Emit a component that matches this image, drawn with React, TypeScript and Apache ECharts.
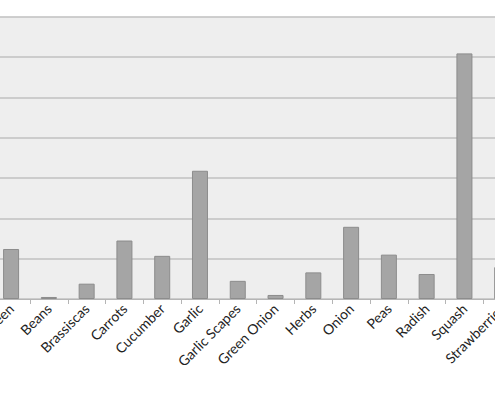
import React, { useEffect, useRef } from "react";
import * as echarts from "echarts";

const categories = [
  "Salad Green",
  "Beans",
  "Brassiscas",
  "Carrots",
  "Cucumber",
  "Garlic",
  "Garlic Scapes",
  "Green Onion",
  "Herbs",
  "Onion",
  "Peas",
  "Radish",
  "Squash",
  "Strawberries",
];
const values = [12.4, 0.5, 3.8, 14.5, 10.7, 31.8, 4.5, 1.0, 6.6, 17.9, 11.0, 6.2, 60.9, 7.9];
const yMin = 0;
const yMax = 70;
const yInterval = 10;

export default function App() {
  const ref = useRef<HTMLDivElement>(null);
  useEffect(() => {
    if (!ref.current) return;
    const chart = echarts.init(ref.current, undefined, { renderer: "svg" });
    chart.setOption({
      animation: false,
      grid: {
        left: 42.2,
        width: 528.9,
        top: 16.7,
        bottom: 101,
        show: true,
        backgroundColor: "#eeeeee",
        borderWidth: 0,
      },
      xAxis: {
        type: "category",
        data: categories,
        axisLine: { lineStyle: { color: "#b5b5b5", width: 1 } },
        axisTick: { show: true, length: 5, lineStyle: { color: "#b5b5b5" } },
        axisLabel: {
          interval: 0,
          rotate: 45,
          fontSize: 14,
          fontFamily: "Lato",
          color: "#222222",
          margin: 7,
        },
      },
      yAxis: {
        type: "value",
        min: yMin,
        max: yMax,
        interval: yInterval,
        axisLabel: { show: false },
        axisLine: { show: false },
        axisTick: { show: false },
        splitLine: { lineStyle: { color: "#c0c0c0", width: 1.5 } },
      },
      series: [
        {
          type: "bar",
          data: values,
          barWidth: 16,
          itemStyle: { color: "#a5a5a5", borderColor: "#8c8c8c", borderWidth: 1 },
        },
      ],
    });
    return () => chart.dispose();
  }, []);
  return (
    <div style={{ position: "fixed", left: 0, top: 0, width: 495, height: 400, overflow: "hidden", background: "#fff" }}>
      <div ref={ref} style={{ position: "absolute", left: -50, top: 0, width: 600, height: 400 }} />
    </div>
  );
}
